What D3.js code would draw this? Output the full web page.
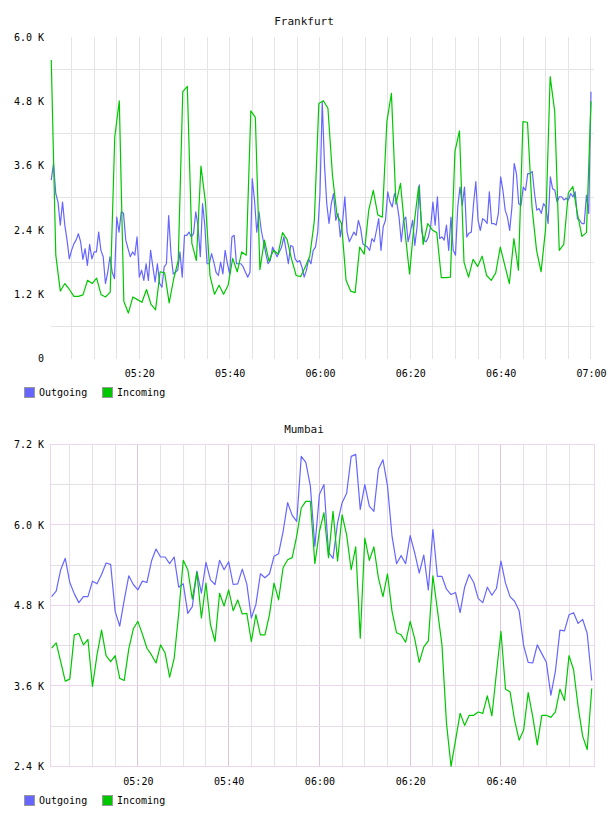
<!DOCTYPE html>
<html>
<head>
<meta charset="utf-8">
<script src="https://cdn.jsdelivr.net/npm/d3@7"></script>
<style>
  body { margin: 0; background: #ffffff; }
</style>
</head>
<body>
<svg id="chart" width="608" height="816"></svg>
<script>
const parseTime = d3.timeParse("%H:%M:%S");

const seriesNames = ["Outgoing", "Incoming"];
const seriesColors = ["#6666ff", "#00c800"];

// Frankfurt, values in thousands (outgoing every 30 s, incoming every minute)
const frankfurtOutgoing = [
  3.33, 3.64, 3.08, 2.92, 2.49, 2.92, 2.49, 2.21, 1.86, 2.02,
  2.14, 2.21, 2.33, 2.18, 1.85, 2.05, 1.74, 2.13, 1.86, 1.99,
  1.99, 2.36, 2.02, 1.90, 1.40, 1.61, 1.90, 1.61, 1.49, 2.64,
  2.36, 2.74, 2.71, 2.21, 2.05, 1.90, 1.99, 1.93, 2.27, 1.52,
  1.65, 1.46, 1.77, 1.46, 2.02, 1.71, 1.43, 1.77, 1.40, 1.33,
  1.71, 1.77, 2.67, 1.96, 1.58, 1.61, 1.65, 1.99, 1.52, 2.30,
  2.30, 2.36, 2.27, 2.33, 2.74, 2.46, 1.90, 2.89, 2.49, 1.77,
  1.77, 1.96, 1.80, 1.61, 1.55, 1.80, 1.58, 2.02, 1.77, 1.58,
  2.27, 2.30, 1.77, 1.77, 1.77, 1.71, 1.61, 1.52, 1.61, 3.36,
  2.96, 2.36, 2.74, 2.39, 2.18, 1.96, 1.77, 1.83, 2.08, 1.99,
  1.90, 1.99, 2.08, 2.27, 2.02, 1.77, 2.11, 2.09, 1.86, 1.80,
  1.83, 1.71, 1.52, 1.65, 1.86, 1.77, 2.02, 2.08, 2.36, 3.08,
  4.79, 3.61, 2.89, 2.52, 2.89, 3.08, 2.58, 2.71, 2.27, 2.55,
  3.02, 2.36, 2.18, 2.27, 2.36, 2.30, 2.58, 2.43, 2.14, 2.11,
  2.08, 2.02, 2.24, 2.18, 2.39, 2.61, 2.02, 2.46, 2.58, 3.11,
  2.92, 2.83, 3.08, 2.92, 2.64, 2.18, 2.58, 2.64, 2.18, 2.36,
  2.58, 2.11, 2.46, 3.24, 2.39, 2.21, 2.18, 2.27, 2.46, 2.92,
  2.49, 3.02, 2.24, 2.27, 2.21, 2.49, 2.02, 2.64, 2.02, 1.93,
  2.83, 3.20, 2.86, 3.20, 2.27, 2.34, 2.36, 2.89, 3.30, 2.58,
  2.39, 2.61, 2.58, 2.52, 3.11, 2.52, 2.52, 2.49, 2.71, 3.39,
  3.14, 2.77, 2.64, 2.39, 2.83, 3.64, 3.45, 2.89, 2.86, 3.20,
  3.14, 3.45, 3.45, 3.49, 3.08, 2.77, 2.80, 2.71, 2.89, 2.83,
  2.52, 3.39, 3.17, 3.14, 2.92, 3.02, 3.02, 2.96, 2.99, 2.96,
  3.08, 3.02, 3.11, 2.61, 2.58, 2.52, 2.52, 3.05, 2.71, 4.98
];
const frankfurtIncoming = [
  5.57, 1.93, 1.26, 1.40, 1.29, 1.16, 1.16, 1.19, 1.46, 1.40,
  1.50, 1.19, 1.15, 1.24, 4.13, 4.81, 1.07, 0.85, 1.15, 1.10,
  1.05, 1.29, 1.01, 0.91, 1.62, 1.60, 1.04, 1.49, 1.83, 4.98,
  5.08, 2.15, 1.83, 3.59, 2.92, 1.55, 1.20, 1.37, 1.20, 1.37,
  1.87, 1.62, 1.99, 1.93, 4.62, 4.50, 1.66, 2.21, 1.82, 2.02,
  1.95, 2.35, 2.22, 1.85, 1.55, 1.53, 1.71, 1.91, 2.57, 4.76,
  4.81, 4.67, 3.42, 2.68, 2.52, 1.46, 1.26, 1.23, 2.08, 1.95,
  2.77, 3.14, 2.68, 2.64, 4.42, 4.95, 2.88, 3.27, 2.36, 1.58,
  2.51, 3.21, 2.13, 2.52, 2.40, 2.35, 1.51, 1.51, 1.52, 3.86,
  4.25, 1.80, 1.52, 1.85, 1.72, 1.91, 1.55, 1.46, 1.60, 2.08,
  1.74, 1.40, 2.24, 1.65, 4.42, 4.41, 2.82, 2.02, 1.62, 2.43,
  5.26, 4.61, 2.02, 2.13, 3.09, 3.21, 2.71, 2.28, 2.35, 4.80
];
const frankfurtTicksY = [0, 1.2, 2.4, 3.6, 4.8, 6.0];
const frankfurtGridY = [0.6, 1.8, 3.0, 4.2, 5.4];
const frankfurtTicksX = ["05:20", "05:40", "06:00", "06:20", "06:40", "07:00"];

// Mumbai, values in thousands (one point per minute)
const mumbaiOutgoing = [
  4.93, 5.01, 5.33, 5.50, 5.14, 4.97, 4.84, 4.93, 4.93, 5.16,
  5.12, 5.26, 5.43, 5.41, 4.71, 4.49, 4.88, 5.24, 5.11, 5.03,
  5.16, 5.14, 5.46, 5.64, 5.52, 5.52, 5.42, 5.52, 5.07, 5.12,
  4.68, 4.78, 5.31, 4.98, 5.44, 5.18, 5.11, 5.47, 5.33, 5.45,
  5.11, 5.12, 5.34, 5.12, 4.61, 4.81, 5.27, 5.21, 5.27, 5.53,
  5.57, 5.90, 6.33, 6.14, 6.05, 7.02, 6.93, 6.58, 5.68, 6.45,
  6.60, 5.59, 5.50, 6.03, 6.33, 6.47, 7.02, 7.05, 6.23, 6.60,
  6.28, 6.20, 6.83, 6.97, 6.58, 5.83, 5.42, 5.54, 5.42, 5.84,
  5.58, 5.28, 5.55, 5.03, 5.93, 5.23, 5.23, 5.04, 4.96, 4.99,
  4.69, 5.07, 5.26, 5.14, 4.90, 4.84, 5.07, 4.95, 5.05, 5.46,
  5.13, 4.93, 4.86, 4.72, 4.20, 3.95, 3.94, 4.21, 4.08, 3.95,
  3.46, 3.82, 4.43, 4.42, 4.66, 4.69, 4.53, 4.59, 4.38, 3.68
];
const mumbaiIncoming = [
  4.16, 4.24, 3.96, 3.67, 3.70, 4.36, 4.38, 4.21, 4.29, 3.59,
  4.06, 4.43, 4.05, 3.96, 4.05, 3.71, 3.68, 4.15, 4.45, 4.56,
  4.37, 4.16, 4.06, 3.94, 4.21, 4.09, 3.73, 4.01, 4.68, 5.47,
  5.33, 4.89, 5.29, 4.61, 5.13, 4.51, 4.26, 4.98, 4.79, 5.03,
  4.72, 4.88, 4.67, 4.68, 4.26, 4.66, 4.36, 4.36, 4.66, 5.13,
  4.88, 5.36, 5.48, 5.51, 5.83, 6.25, 6.35, 6.35, 5.42, 5.90,
  6.18, 5.51, 6.20, 5.46, 6.15, 5.85, 5.33, 5.67, 4.31, 5.80,
  5.47, 5.67, 5.21, 4.93, 5.27, 4.71, 4.39, 4.36, 4.25, 4.56,
  4.30, 3.95, 4.18, 4.27, 5.24, 4.73, 4.21, 3.04, 2.40, 2.79,
  3.19, 3.01, 3.16, 3.16, 3.21, 3.19, 3.45, 3.15, 3.79, 4.41,
  3.55, 3.51, 3.09, 2.79, 2.94, 3.50, 3.14, 2.72, 3.16, 3.16,
  3.13, 3.21, 3.55, 3.38, 4.05, 3.84, 3.29, 2.85, 2.65, 3.56
];
const mumbaiTicksY = [2.4, 3.6, 4.8, 6.0, 7.2];
const mumbaiGridY = [3.0, 4.2, 5.4, 6.6];
const mumbaiTicksX = ["05:20", "05:40", "06:00", "06:20", "06:40"];

const svg = d3.select("#chart");
const monoFont = "'DejaVu Sans Mono', monospace";

const panels = [
    {
        title: "Frankfurt", outgoing: frankfurtOutgoing, incoming: frankfurtIncoming,
        dataStart: "05:00:30", dataEnd: "07:00:00", xDomain: ["05:00:20", "07:00:40"],
        gridEnd: "07:00:01", yDomain: [0, 6], yTicks: frankfurtTicksY, yGrid: frankfurtGridY,
        xTicks: frankfurtTicksX, top: 37, bottom: 358.6, titleY: 25, legendY: 387.5, pink: false
    },
    {
        title: "Mumbai", outgoing: mumbaiOutgoing, incoming: mumbaiIncoming,
        dataStart: "05:01:00", dataEnd: "07:00:00", xDomain: ["05:00:45", "07:00:30"],
        gridEnd: "07:00:00", yDomain: [2.4, 7.2], yTicks: mumbaiTicksY, yGrid: mumbaiGridY,
        xTicks: mumbaiTicksX, top: 444.3, bottom: 766.3, titleY: 433, legendY: 795.5, pink: true
    }
];

const left = 50.5;
const right = 594;

panels.forEach(p => drawPanel(svg, p));

function crisp(v) {
    return Math.round(v - 0.5) + 0.5;
}

function drawPanel(svg, p) {
    const x = d3.scaleTime().domain(p.xDomain.map(parseTime)).range([left, right]);
    const y = d3.scaleLinear().domain(p.yDomain).range([p.bottom, p.top]);
    const g = svg.append("g");

    // vertical grid every 5 minutes
    const minutes = d3.timeMinute.range(parseTime("05:05:00"), parseTime(p.gridEnd), 5);
    g.append("g").selectAll("line")
        .data(minutes)
        .join("line")
        .attr("x1", d => crisp(x(d)))
        .attr("x2", d => crisp(x(d)))
        .attr("y1", p.top)
        .attr("y2", p.bottom)
        .attr("stroke", d => {
            if (!p.pink) return "#e4e4e4";
            return d.getMinutes() % 20 === 0 ? "#dcc6dc" : "#e8e0e8";
        })
        .attr("stroke-width", 1)
        .attr("shape-rendering", "crispEdges");

    // horizontal grid
    const hLines = p.pink
        ? p.yGrid.map(v => ({ v, major: false })).concat(p.yTicks.map(v => ({ v, major: true })))
        : p.yGrid.map(v => ({ v, major: false }));
    g.append("g").selectAll("line")
        .data(hLines)
        .join("line")
        .attr("x1", left)
        .attr("x2", right)
        .attr("y1", d => crisp(y(d.v)))
        .attr("y2", d => crisp(y(d.v)))
        .attr("stroke", d => {
            if (!p.pink) return "#e4e4e4";
            return d.major ? "#ecd6ec" : "#e6dee6";
        })
        .attr("stroke-width", 1)
        .attr("shape-rendering", "crispEdges");

    if (p.pink) {
        g.append("rect")
            .attr("x", crisp(left))
            .attr("y", crisp(p.top))
            .attr("width", Math.round(right - left))
            .attr("height", Math.round(p.bottom - p.top))
            .attr("fill", "none")
            .attr("stroke", "#ecd6ec")
            .attr("shape-rendering", "crispEdges");
    }

    // axes
    const yAxis = d3.axisLeft(y)
        .tickValues(p.yTicks)
        .tickSize(0)
        .tickPadding(6.5)
        .tickFormat(v => v === 0 ? "0" : v.toFixed(1) + " K");
    g.append("g")
        .attr("transform", `translate(${left},0)`)
        .call(yAxis)
        .call(a => a.select(".domain").remove())
        .attr("font-family", monoFont)
        .attr("font-size", 10);

    const xAxis = d3.axisBottom(x)
        .tickValues(p.xTicks.map(t => parseTime(t + ":00")))
        .tickSize(0)
        .tickPadding(11.5)
        .tickFormat(d3.timeFormat("%H:%M"));
    g.append("g")
        .attr("transform", `translate(0,${p.bottom})`)
        .call(xAxis)
        .call(a => a.select(".domain").remove())
        .attr("font-family", monoFont)
        .attr("font-size", 10);

    // series
    const t0 = parseTime(p.dataStart);
    const t1 = parseTime(p.dataEnd);
    [p.outgoing, p.incoming].forEach((values, i) => {
        const tAt = d3.scaleTime().domain([0, values.length - 1]).range([t0, t1]);
        const line = d3.line()
            .x((d, j) => x(tAt(j)))
            .y(d => y(d));
        g.append("path")
            .datum(values)
            .attr("d", line)
            .attr("fill", "none")
            .attr("stroke", seriesColors[i])
            .attr("stroke-width", 1.2)
            .attr("stroke-linejoin", "round");
    });

    // title
    g.append("text")
        .attr("x", 304)
        .attr("y", p.titleY)
        .attr("text-anchor", "middle")
        .attr("font-family", monoFont)
        .attr("font-size", 11)
        .attr("fill", "#111")
        .text(p.title);

    // legend
    const legendX = [24.5, 102.5];
    seriesNames.forEach((name, i) => {
        g.append("rect")
            .attr("x", legendX[i])
            .attr("y", p.legendY)
            .attr("width", 10)
            .attr("height", 10)
            .attr("fill", seriesColors[i])
            .attr("stroke", "#999")
            .attr("stroke-width", 1);
        g.append("text")
            .attr("x", legendX[i] + 14.5)
            .attr("y", p.legendY + 8.5)
            .attr("font-family", monoFont)
            .attr("font-size", 10)
            .attr("fill", "#000")
            .text(name);
    });
}
</script>
</body>
</html>
